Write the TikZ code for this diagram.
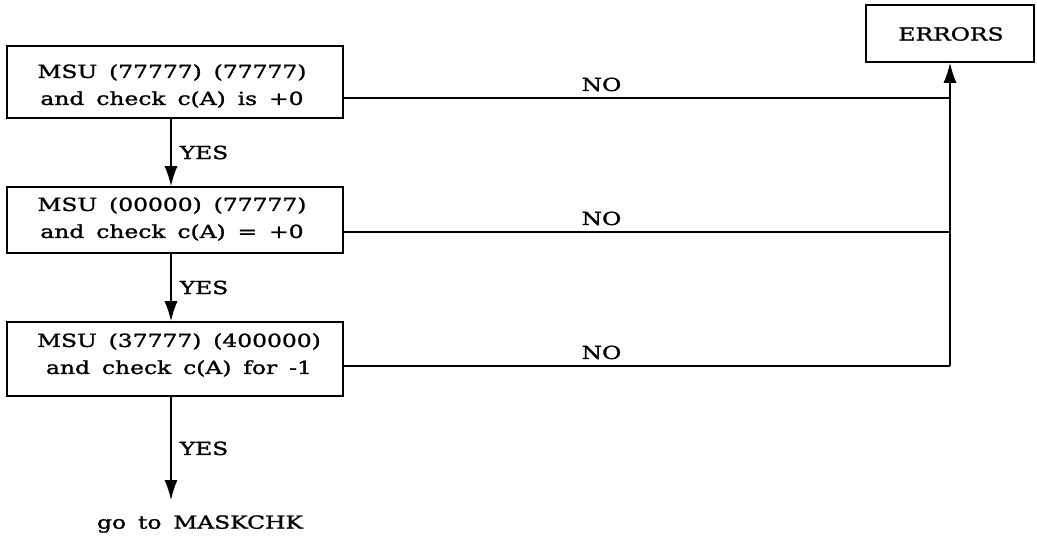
\documentclass[tikz,border=0pt]{standalone}
\usepackage{fontspec}
\setmainfont{DejaVu Serif}[FakeStretch=1.3,WordSpace=1.6,FakeBold=1.5]
\usetikzlibrary{arrows.meta}
\begin{document}
\begin{tikzpicture}[x=1pt,y=-1pt,
  txt/.style={font=\fontsize{18}{27}\selectfont},
  box/.style={draw,line width=1.6pt,inner sep=0pt},
  lbl/.style={txt,inner sep=0pt},
  conn/.style={line width=1.5pt},
  arr/.style={conn,-{Latex[length=20pt,width=13pt]}}]
\useasboundingbox (0,0) rectangle (1037,548);
% boxes
\node[box,minimum width=336pt,minimum height=72pt] (b1) at (175,82) {};
\node[box,minimum width=336pt,minimum height=66pt] (b2) at (175,220) {};
\node[box,minimum width=336pt,minimum height=74pt] (b3) at (175,359) {};
\node[box,minimum width=168pt,minimum height=57pt] (err) at (950,33.5) {};
% texts
\node[lbl,align=center] (t1) at (172,86) {MSU (77777) (77777)\\and check c(A) is +0};
\node[lbl,align=center] (t2) at (172,219) {MSU (00000) (77777)\\and check c(A) = +0};
\node[lbl,align=center] (t3) at (179,355) {MSU (37777) (400000)\\and check c(A) for -1};
\node[lbl] (terr) at (951,34) {ERRORS};
\node[lbl] (goto) at (200,524) {go to MASKCHK};
% helper coordinates
\coordinate (c) at (171,0);
\coordinate (end) at (171,500);
\coordinate (j1) at (950,98);
\coordinate (j2) at (950,232);
\coordinate (j3) at (950,366);
% connectors
\draw[arr] (b1.south -| c) -- node[lbl,right=8pt] {YES} (b2.north -| c);
\draw[arr] (b2.south -| c) -- node[lbl,right=8pt] {YES} (b3.north -| c);
\draw[arr] (b3.south -| c) -- node[lbl,right=8pt] {YES} (end);
\draw[conn] (b1.east |- j1) -- node[lbl,pos=0.425,above=6pt] {NO} (j1);
\draw[conn] (b2.east |- j2) -- node[lbl,pos=0.425,above=6pt] {NO} (j2);
\draw[conn] (b3.east |- j3) -- node[lbl,pos=0.425,above=6pt] {NO} (j3);
\draw[conn] (j1) -- (j3);
\draw[arr] (j3) -- (err.south);
\end{tikzpicture}
\end{document}
